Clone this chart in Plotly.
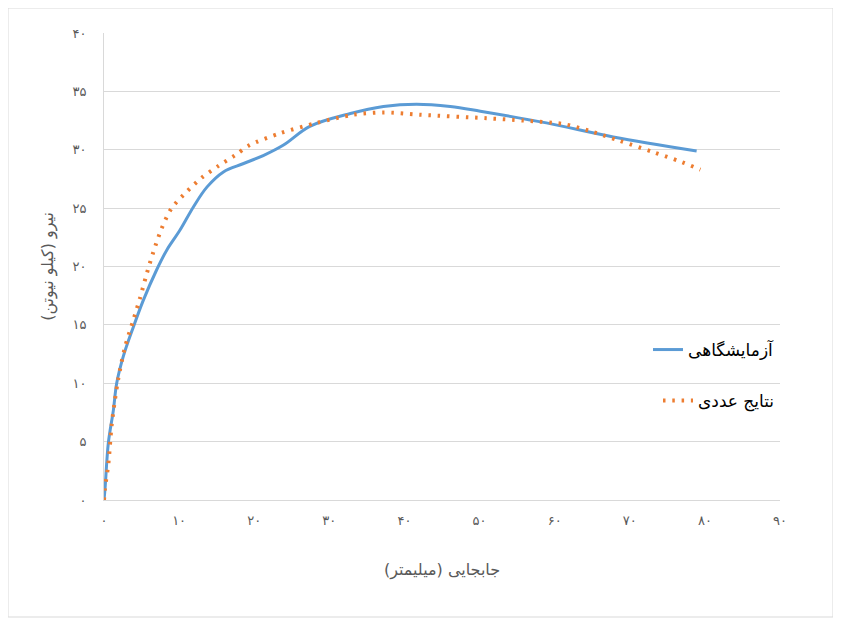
import plotly.graph_objects as go

# --- data ---
lab_x = [0, 0.13, 0.58, 1.25, 1.69, 2.57, 3.9, 5.23, 7.0, 8.35, 10.1, 11.9, 13.7, 15.9,
         18.5, 21.2, 23.9, 27.4, 32.8, 37.2, 41.6, 46.1, 50.1, 58.9, 67.8, 78.9]
lab_y = [0, 0.9, 4.9, 7.7, 10.0, 12.3, 14.8, 17.1, 19.7, 21.4, 23.1, 25.1, 26.8, 28.1,
         28.8, 29.5, 30.4, 32.0, 33.1, 33.7, 33.9, 33.7, 33.3, 32.3, 31.1, 29.9]

num_x = [0, 0.13, 0.58, 1.0, 1.46, 1.9, 2.8, 3.9, 4.8, 5.7, 6.6, 7.7, 9.0, 11.0, 13.0,
         15.2, 17.4, 19.4, 23.4, 28.3, 33.2, 37.2, 42.1, 50.9, 55.8, 61.2, 64.7, 68.5,
         73.1, 76.7, 79.4]
num_y = [0, 1.0, 3.1, 6.3, 8.6, 10.4, 13.1, 15.4, 17.3, 19.4, 21.3, 23.3, 25.0, 26.4, 27.6,
         28.6, 29.5, 30.4, 31.4, 32.3, 33.0, 33.2, 33.0, 32.7, 32.5, 32.2, 31.6, 30.8,
         29.8, 29.0, 28.3]

series_names = ["آزمایشگاهی", "نتایج عددی"]

x_tickvals = [0, 10, 20, 30, 40, 50, 60, 70, 80, 90]
x_ticktext = ["۰", "۱۰", "۲۰", "۳۰", "۴۰", "۵۰", "۶۰", "۷۰", "۸۰", "۹۰"]
y_tickvals = [0, 5, 10, 15, 20, 25, 30, 35, 40]
y_ticktext = ["۰", "۵", "۱۰", "۱۵", "۲۰", "۲۵", "۳۰", "۳۵", "۴۰"]

x_title = "\u200fجابجایی (میلیمتر)\u200f"
y_title = "\u200fنیرو (کیلو نیوتن)\u200f"

FONT = "DejaVu Sans"
GRAY = "#595959"
GRID = "#D9D9D9"

fig = go.Figure()
fig.add_trace(go.Scatter(
    x=lab_x, y=lab_y, mode="lines", name=series_names[0],
    line=dict(color="#5B9BD5", width=3, shape="spline", smoothing=1.0),
    legend="legend",
))
fig.add_trace(go.Scatter(
    x=num_x, y=num_y, mode="lines", name=series_names[1],
    line=dict(color="#ED7D31", width=4, shape="spline", smoothing=0.8, dash="2.5px,6.8px"),
    legend="legend2",
))

# the page body adds an 8px offset, so figure px = reference px - 8
OFF = 8
W, H = 841, 619
L, R, T, B = 104 - OFF, 780 - OFF, 33 - OFF, 500 - OFF

def px2paper_x(px):
    return (px - OFF - L) / (R - L)

def px2paper_y(py):
    return (B - (py - OFF)) / (B - T)

fig.update_layout(
    width=W, height=H,
    margin=dict(l=L, r=W - R, t=T, b=H - B, pad=0),
    paper_bgcolor="white", plot_bgcolor="white",
    font=dict(family=FONT, color=GRAY, size=12),
    xaxis=dict(
        range=[0, 90], tickvals=x_tickvals, ticktext=x_ticktext,
        showgrid=False, zeroline=False, showline=True, linecolor=GRID, linewidth=1,
        ticks="", tickfont=dict(size=13, color=GRAY, family=FONT), ticklabelstandoff=8,
        title=dict(text=x_title, font=dict(size=16, color=GRAY, family=FONT), standoff=37),
    ),
    yaxis=dict(
        range=[0, 40], tickvals=y_tickvals, ticktext=y_ticktext,
        showgrid=True, gridcolor=GRID, gridwidth=1, zeroline=False,
        showline=True, linecolor=GRID, linewidth=1, ticks="",
        tickfont=dict(size=13, color=GRAY, family=FONT), ticklabelstandoff=14,
        title=dict(text=y_title, font=dict(size=16, color=GRAY, family=FONT), standoff=14),
    ),
    showlegend=True,
    legend=dict(x=1.0, y=px2paper_y(350), xanchor="right", yanchor="middle",
                bgcolor="rgba(0,0,0,0)", font=dict(size=17, color="black", family=FONT)),
    legend2=dict(x=1.0, y=px2paper_y(401), xanchor="right", yanchor="middle",
                 bgcolor="rgba(0,0,0,0)", font=dict(size=17, color="black", family=FONT)),
    shapes=[dict(type="rect", xref="paper", yref="paper",
                 x0=px2paper_x(8), x1=px2paper_x(833), y0=px2paper_y(617), y1=px2paper_y(8),
                 line=dict(color="#D9D9D9", width=1), fillcolor="rgba(0,0,0,0)", layer="below")],
)

fig.write_html("out.html")
